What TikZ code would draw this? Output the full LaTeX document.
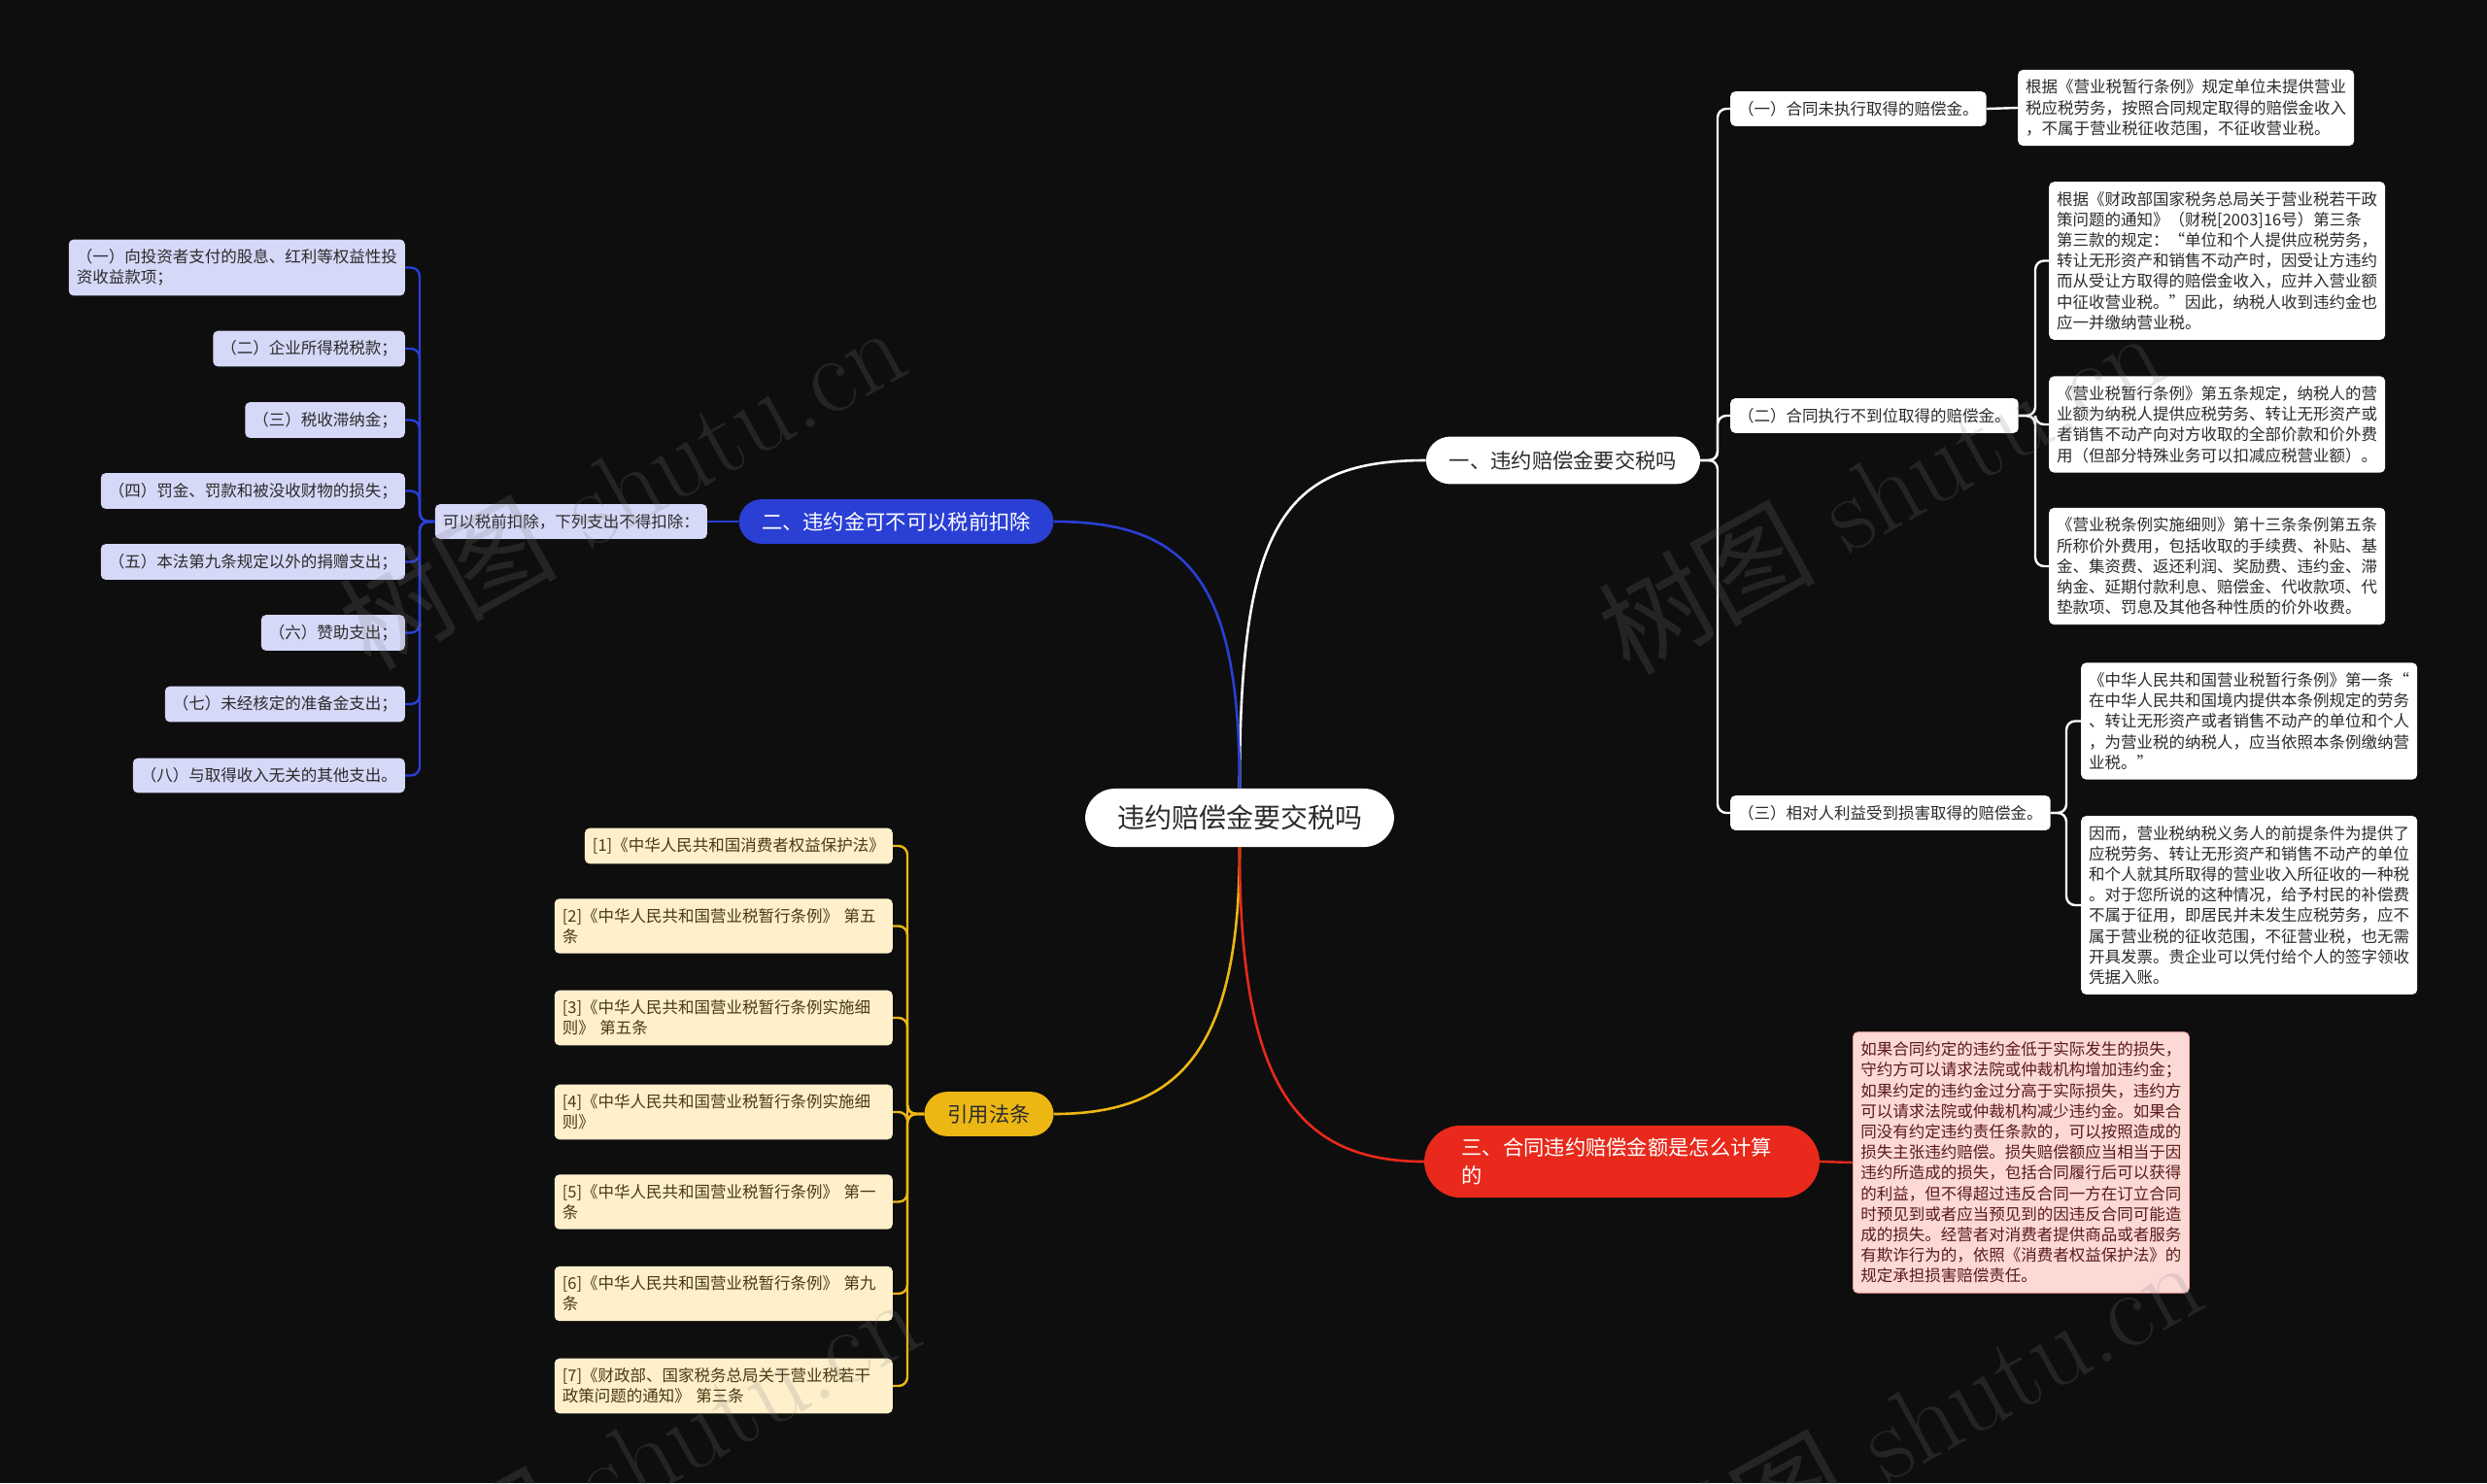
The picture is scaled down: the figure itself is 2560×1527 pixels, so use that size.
\documentclass[tikz,border=0pt]{standalone}
\usepackage{fontspec}
\newfontfamily\cjk{Noto Sans CJK SC}
\definecolor{bg}{HTML}{0E0E0E}
\definecolor{lav}{HTML}{D5D8F7}
\definecolor{blu}{HTML}{2A3FD4}
\definecolor{yel}{HTML}{EDB713}
\definecolor{crm}{HTML}{FDF0CB}
\definecolor{redp}{HTML}{E8291B}
\definecolor{pnk}{HTML}{FCD9D5}
\definecolor{txt}{HTML}{2B2B2B}
\definecolor{ytxt}{HTML}{4A3A10}
\definecolor{ptxt}{HTML}{5A1A1A}
\tikzset{
  sm/.style={font=\cjk\fontsize{16.5}{21.2}\selectfont, inner xsep=8, inner ysep=10, rounded corners=5, align=left},
  wbox/.style={sm, fill=white, text=txt},
  lbox/.style={sm, fill=lav, text=txt},
  ybox/.style={sm, fill=crm, text=ytxt},
  pbox/.style={sm, fill=pnk, text=ptxt, draw=redp!45, line width=0.8},
  pill/.style={font=\cjk\fontsize{21.3}{29}\selectfont, inner xsep=23.5, inner ysep=13, rounded corners=23.5},
  conn/.style={line width=2.4, rounded corners=9},
  trunk/.style={line width=2.6},
  wm/.style={text=gray, opacity=0.2, rotate=29, font=\fontsize{112}{112}\selectfont},
}
\begin{document}
\begin{tikzpicture}[x=1pt,y=-1pt]
\fill[bg] (0,0) rectangle (2560,1527);
\useasboundingbox (0,0) rectangle (2560,1527);

% centre
\node[fill=white, text=txt, font=\cjk\fontsize{28}{34}\selectfont, inner xsep=33, inner ysep=17, rounded corners=31] (c) at (1276,842) {违约赔偿金要交税吗};

% main branches
\node[pill, fill=white, text=txt, inner xsep=24, inner ysep=14.5, rounded corners=25] (p1) at (1609,474) {一、违约赔偿金要交税吗};
\node[pill, fill=blu, text=white] (p2) at (922.5,537) {二、违约金可不可以税前扣除};
\node[pill, fill=yel, text=txt, inner xsep=24] (p3) at (1018,1147) {引用法条};
\node[pill, fill=redp, text=white, text width=330, align=left, inner xsep=38.5, rounded corners=38] (p4) at (1669.5,1196) {三、合同违约赔偿金额是怎么计算\\的};

\draw[trunk, white] (c.north) .. controls (1276,540) and (1320,474) .. (p1.west);
\draw[trunk, blu] (c.north) .. controls (1276,600) and (1225,537) .. (p2.east);
\draw[trunk, yel] (c.south) .. controls (1276,1080) and (1215,1147) .. (p3.east);
\draw[trunk, redp] (c.south) .. controls (1276,1110) and (1330,1196) .. (p4.west);

% ---- branch two (left)
\node[lbox, anchor=east] (s2) at (728,537) {可以税前扣除，下列支出不得扣除：};
\node[lbox, anchor=east] (l1) at (417,275.5) {（一）向投资者支付的股息、红利等权益性投\\资收益款项；};
\node[lbox, anchor=east] (l2) at (417,359) {（二）企业所得税税款；};
\node[lbox, anchor=east] (l3) at (417,432.5) {（三）税收滞纳金；};
\node[lbox, anchor=east] (l4) at (417,505.5) {（四）罚金、罚款和被没收财物的损失；};
\node[lbox, anchor=east] (l5) at (417,578.5) {（五）本法第九条规定以外的捐赠支出；};
\node[lbox, anchor=east] (l6) at (417,651.5) {（六）赞助支出；};
\node[lbox, anchor=east] (l7) at (417,725) {（七）未经核定的准备金支出；};
\node[lbox, anchor=east] (l8) at (417,798.5) {（八）与取得收入无关的其他支出。};
\coordinate (j2) at (432,537);
\draw[conn, blu] (p2.west) -- (s2.east);
\foreach \n in {l1,l2,l3,l4,l5,l6,l7,l8}
  \draw[conn, blu] (s2.west) -- (j2) |- (\n.east);

% ---- references (left bottom)
\node[ybox, anchor=east] (f1) at (919,871) {[1]《中华人民共和国消费者权益保护法》};
\node[ybox, anchor=east, text width=332] (f2) at (919,953.5) {[2]《中华人民共和国营业税暂行条例》 第五\\条};
\node[ybox, anchor=east, text width=332] (f3) at (919,1048) {[3]《中华人民共和国营业税暂行条例实施细\\则》 第五条};
\node[ybox, anchor=east, text width=332] (f4) at (919,1145) {[4]《中华人民共和国营业税暂行条例实施细\\则》};
\node[ybox, anchor=east, text width=332] (f5) at (919,1237.5) {[5]《中华人民共和国营业税暂行条例》 第一\\条};
\node[ybox, anchor=east, text width=332] (f6) at (919,1332) {[6]《中华人民共和国营业税暂行条例》 第九\\条};
\node[ybox, anchor=east, text width=332] (f7) at (919,1427) {[7]《财政部、国家税务总局关于营业税若干\\政策问题的通知》 第三条};
\coordinate (j3) at (934,1147);
\foreach \n in {f1,f2,f3,f4,f5,f6,f7}
  \draw[conn, yel] (p3.west) -- (j3) |- (\n.east);

% ---- branch one (right)
\node[wbox, anchor=west] (r1) at (1781,112) {（一）合同未执行取得的赔偿金。};
\node[wbox, anchor=west] (r2) at (1781,428) {（二）合同执行不到位取得的赔偿金。};
\node[wbox, anchor=west] (r3) at (1781,837) {（三）相对人利益受到损害取得的赔偿金。};
\coordinate (j1) at (1768,474);
\foreach \n in {r1,r2,r3}
  \draw[conn, white] (p1.east) -- (j1) |- (\n.west);

\node[wbox, anchor=west] (r1a) at (2077,111) {根据《营业税暂行条例》规定单位未提供营业\\税应税劳务，按照合同规定取得的赔偿金收入\\，不属于营业税征收范围，不征收营业税。};
\draw[conn, white] (r1.east) -- (r1a.west);

\node[wbox, anchor=west] (r2a) at (2109,268.5) {根据《财政部国家税务总局关于营业税若干政\\策问题的通知》（财税[2003]16号）第三条\\第三款的规定：“单位和个人提供应税劳务，\\转让无形资产和销售不动产时，因受让方违约\\而从受让方取得的赔偿金收入，应并入营业额\\中征收营业税。”因此，纳税人收到违约金也\\应一并缴纳营业税。};
\node[wbox, anchor=west] (r2b) at (2109,437) {《营业税暂行条例》第五条规定，纳税人的营\\业额为纳税人提供应税劳务、转让无形资产或\\者销售不动产向对方收取的全部价款和价外费\\用（但部分特殊业务可以扣减应税营业额）。};
\node[wbox, anchor=west] (r2c) at (2109,583) {《营业税条例实施细则》第十三条条例第五条\\所称价外费用，包括收取的手续费、补贴、基\\金、集资费、返还利润、奖励费、违约金、滞\\纳金、延期付款利息、赔偿金、代收款项、代\\垫款项、罚息及其他各种性质的价外收费。};
\coordinate (jr2) at (2095,428);
\foreach \n in {r2a,r2b,r2c}
  \draw[conn, white] (r2.east) -- (jr2) |- (\n.west);

\node[wbox, anchor=west] (r3a) at (2142,742.5) {《中华人民共和国营业税暂行条例》第一条“\\在中华人民共和国境内提供本条例规定的劳务\\、转让无形资产或者销售不动产的单位和个人\\，为营业税的纳税人，应当依照本条例缴纳营\\业税。”};
\node[wbox, anchor=west] (r3b) at (2142,932) {因而，营业税纳税义务人的前提条件为提供了\\应税劳务、转让无形资产和销售不动产的单位\\和个人就其所取得的营业收入所征收的一种税\\。对于您所说的这种情况，给予村民的补偿费\\不属于征用，即居民并未发生应税劳务，应不\\属于营业税的征收范围，不征营业税，也无需\\开具发票。贵企业可以凭付给个人的签字领收\\凭据入账。};
\coordinate (jr3) at (2127,837);
\foreach \n in {r3a,r3b}
  \draw[conn, white] (r3.east) -- (jr3) |- (\n.west);

% ---- branch three
\node[pbox, anchor=west] (q1) at (1907,1197) {如果合同约定的违约金低于实际发生的损失，\\守约方可以请求法院或仲裁机构增加违约金；\\如果约定的违约金过分高于实际损失，违约方\\可以请求法院或仲裁机构减少违约金。如果合\\同没有约定违约责任条款的，可以按照造成的\\损失主张违约赔偿。损失赔偿额应当相当于因\\违约所造成的损失，包括合同履行后可以获得\\的利益，但不得超过违反合同一方在订立合同\\时预见到或者应当预见到的因违反合同可能造\\成的损失。经营者对消费者提供商品或者服务\\有欺诈行为的，依照《消费者权益保护法》的\\规定承担损害赔偿责任。};
\draw[conn, redp] (p4.east) -- (q1.west);

% ---- watermarks
\node[wm] (w1) at (640,500) {{\cjk 树图} shutu.cn};
\node[wm] (w2) at (1935,505) {{\cjk 树图} shutu.cn};
\node[wm] (w3) at (655,1500) {{\cjk 树图} shutu.cn};
\node[wm] (w4) at (1975,1462) {{\cjk 树图} shutu.cn};
\end{tikzpicture}
\end{document}
